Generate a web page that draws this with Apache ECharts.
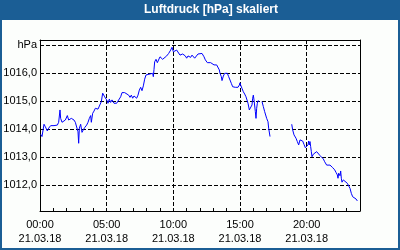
<!DOCTYPE html>
<html><head><meta charset="utf-8">
<script src="https://cdn.jsdelivr.net/npm/echarts@6/dist/echarts.min.js"></script>
<style>html,body{margin:0;padding:0;background:#fff}#c{width:400px;height:250px}</style>
</head><body><div id="c"></div>
<script>
const titleText = 'Luftdruck [hPa] skaliert';
const dateLabel = '21.03.18';
const unitLabel = 'hPa';
const xTickHours = [0, 5, 10, 15, 20];
const yTickValues = [1012, 1013, 1014, 1015, 1016, 1017];

const hours = [
0.05,0.15,0.3,0.4,0.55,0.65,0.8,1.05,1.3,1.4,1.5,1.55,1.65,1.75,1.9,2.05,2.15,2.25,2.35,2.45,
2.55,2.65,2.8,2.85,2.9,2.95,3.05,3.15,3.25,3.35,3.5,3.6,3.7,3.8,3.85,3.95,4.05,4.15,4.25,4.35,
4.5,4.6,4.7,4.85,5.0,5.1,5.2,5.3,5.4,5.55,5.75,5.85,
6.05,6.15,6.35,6.5,6.65,6.75,6.85,6.95,7.05,7.15,7.25,7.35,7.45,7.55,7.65,7.75,7.85,7.95,8.1,8.45,
8.5,8.55,8.6,8.7,8.8,8.9,9.0,9.1,9.2,9.35,9.5,9.65,9.8,9.9,10.0,10.15,10.25,10.35,10.5,10.6,
10.7,10.8,10.9,11.0,11.1,11.2,11.3,11.4,11.5,11.6,11.75,11.85,12.0,
12.15,12.3,12.4,12.55,12.8,12.9,13.05,13.25,13.35,13.45,13.5,13.6,13.65,13.75,13.85,14.05,14.15,14.25,14.35,14.45,
14.65,14.85,14.95,15.0,15.05,15.15,15.25,15.35,15.45,15.55,15.6,15.7,15.8,15.9,15.95,16.0,16.05,16.15,16.2,16.25,
16.3,16.35,16.45,
16.55,
16.65,16.75,16.85,17.0,17.1,17.15,17.25,
18.0,
18.88,18.95,19.05,19.2,19.3,19.4,19.5,19.6,19.7,19.8,19.9,20.0,20.1,20.15,20.2,20.25,20.3,20.35,20.4,20.5,
20.6,20.75,20.9,21.0,21.15,21.25,21.35,21.5,21.65,21.75,21.85,21.95,22.1,22.2,22.3,22.35,22.4,22.45,22.5,22.55,
22.6,22.65,22.75,22.9,23.05,23.15,23.25,23.35,23.45,23.6,23.7,23.8
];

const pressure = [
1013.82,1013.74,1014.18,1014.09,1013.94,1014.04,1014.13,1014.13,1014.15,1014.25,1014.69,1014.39,1014.25,1014.18,1014.33,1014.49,1014.33,1014.30,1014.39,1014.41,
1014.33,1014.25,1014.18,1013.91,1013.50,1014.04,1014.18,1013.89,1013.98,1014.06,1014.15,1014.25,1014.39,1014.49,1014.25,1014.57,1014.65,1014.75,1014.77,1014.72,
1014.75,1014.99,1015.29,1015.16,1015.05,1014.93,1015.08,1014.96,1015.05,1014.93,1014.93,1015.01,
1015.16,1015.31,1015.31,1015.26,1015.22,1015.14,1015.22,1015.11,1015.19,1015.14,1015.11,1015.22,1015.40,1015.50,1015.38,1015.55,1015.79,1015.94,1016.00,1016.00,
1015.88,1016.14,1016.41,1016.50,1016.38,1016.45,1016.59,1016.54,1016.50,1016.54,1016.62,1016.71,1016.83,1016.93,1016.77,1016.77,1016.83,1016.77,1016.65,1016.59,
1016.69,1016.71,1016.62,1016.54,1016.62,1016.65,1016.57,1016.65,1016.59,1016.54,1016.59,1016.69,1016.71,
1016.71,1016.59,1016.48,1016.38,1016.38,1016.33,1016.30,1016.30,1016.24,1016.12,1016.00,1015.88,1015.74,1015.90,1016.00,1016.00,1015.88,1015.76,1015.64,1015.52,
1015.50,1015.50,1015.58,1015.66,1015.58,1015.46,1015.34,1015.26,1015.16,1015.14,1014.93,1014.69,1014.75,1014.87,1015.11,1015.22,1015.05,1014.63,1014.39,1014.75,
1014.93,1015.02,1014.99,
null,
1014.99,1014.81,1014.63,1014.39,1014.27,1014.04,1013.74,
null,
1014.18,1013.98,1013.80,1013.68,1013.56,1013.44,1013.62,1013.68,1013.58,1013.46,1013.34,1013.30,1013.44,1013.58,1013.44,1013.56,1013.38,1013.20,1013.02,1013.11,
1013.18,1013.20,1013.16,1013.06,1012.99,1012.94,1012.84,1012.72,1012.77,1012.72,1012.66,1012.63,1012.55,1012.46,1012.37,1012.25,1012.43,1012.49,1012.34,1012.51,
1012.25,1012.11,1012.19,1012.15,1012.07,1012.01,1011.89,1011.71,1011.59,1011.54,1011.51,1011.44
];

const FONT = 'Liberation Sans';
const chart = echarts.init(document.getElementById('c'), null, {renderer: 'canvas'});
const yMin = 1011.08, yMax = 1017.19;
const dash = [4, 2];

chart.setOption({
  animation: false,
  backgroundColor: '#1b5e95',
  graphic: [{
    type: 'rect', z: -10, silent: true,
    shape: {x: 2, y: 20, width: 396, height: 228},
    style: {fill: '#fcfefc'}
  }],
  title: {
    text: titleText, left: 144, top: 3, padding: 0,
    textStyle: {color: '#ffffff', fontSize: 12, fontWeight: 'bold', fontFamily: FONT, lineHeight: 14}
  },
  grid: {left: 40, right: 40, top: 40, bottom: 39, containLabel: false, show: false},
  xAxis: [
    {
      type: 'value', min: 0, max: 24, position: 'bottom',
      axisLine: {show: true, onZero: false, lineStyle: {color: '#000', width: 1}},
      axisTick: {show: false},
      splitLine: {show: true, lineStyle: {color: '#000', width: 1, type: dash}},
      axisLabel: {
        customValues: xTickHours,
        color: '#000', fontSize: 11, fontFamily: FONT, lineHeight: 14, margin: 7,
        formatter: v => String(v).padStart(2, '0') + ':00\n' + dateLabel
      },
      interval: 5
    },
    {
      type: 'value', min: 0, max: 24, interval: 1, position: 'bottom',
      axisLine: {show: false, onZero: false},
      axisTick: {show: true, inside: true, length: 3, lineStyle: {color: '#000', width: 1}},
      axisLabel: {show: false}, splitLine: {show: false}
    },
    {
      type: 'value', min: 0, max: 24, position: 'top',
      axisLine: {show: true, onZero: false, lineStyle: {color: '#000', width: 1}},
      axisTick: {show: false}, axisLabel: {show: false}, splitLine: {show: false}
    }
  ],
  yAxis: [
    {
      type: 'value', min: yMin, max: yMax, minInterval: 1, maxInterval: 1, position: 'left',
      axisLine: {show: true, onZero: false, lineStyle: {color: '#000', width: 1}},
      axisTick: {show: false},
      splitLine: {show: true, lineStyle: {color: '#000', width: 1, type: dash}},
      axisLabel: {
        customValues: yTickValues,
        color: '#000', fontSize: 11, fontFamily: FONT, margin: 3,
        formatter: v => Math.abs(v - 1017) < 1e-6 ? unitLabel : v.toFixed(1).replace('.', ',')
      }
    },
    {
      type: 'value', min: yMin, max: yMax, position: 'right',
      axisLine: {show: true, onZero: false, lineStyle: {color: '#000', width: 1}},
      axisTick: {show: false}, axisLabel: {show: false}, splitLine: {show: false}
    }
  ],
  series: [{
    type: 'line', xAxisIndex: 0, yAxisIndex: 0,
    data: hours.map((h, i) => [h, pressure[i] === null ? '-' : pressure[i]]),
    symbol: 'none', showSymbol: false, connectNulls: false,
    lineStyle: {color: '#0000ff', width: 1}
  }]
});
</script></body></html>
